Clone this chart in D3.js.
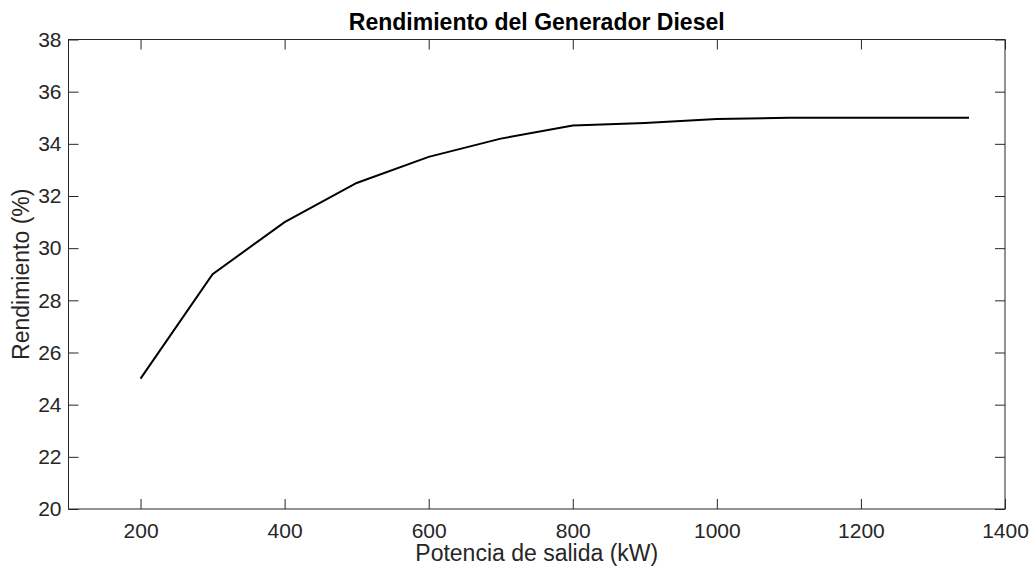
<!DOCTYPE html>
<html lang="es">
<head>
	<meta charset="UTF-8">
	<script src="https://d3js.org/d3.v7.min.js"></script>
	<style>
	body { margin: 0; background: #fff; }
	text { font-family: "Liberation Sans", Arial, sans-serif; }
	</style>
	<title>Rendimiento del Generador Diesel</title>
</head>
<body>
	<div id="chart"></div>
	<script>
		// Potencia de salida (kW) y rendimiento (%)
		const potencia = [200, 300, 400, 500, 600, 700, 800, 900, 1000, 1100, 1200, 1350];
		const rendimiento = [25, 29, 31, 32.5, 33.5, 34.2, 34.7, 34.8, 34.95, 35, 35, 35];
		const xTicks = [200, 400, 600, 800, 1000, 1200, 1400];
		const yTicks = [20, 22, 24, 26, 28, 30, 32, 34, 36, 38];

		const width = 1032, height = 569;
		const margin = { top: 39.5, right: 27, bottom: 60, left: 68.5 };
		const ink = "#262626";

		const svg = d3.select("#chart").append("svg")
			.attr("width", width)
			.attr("height", height);

		const x = d3.scaleLinear()
			.domain([100, 1400])
			.range([margin.left, width - margin.right]);
		const y = d3.scaleLinear()
			.domain([20, 38])
			.range([height - margin.bottom, margin.top]);

		// axes, ticks inward, on all four sides
		const tickLen = 10;
		function styleAxis(g) {
			g.select(".domain").remove();
			g.selectAll(".tick line").attr("stroke", ink);
			g.selectAll(".tick text")
				.attr("fill", ink)
				.style("font-size", "21px");
		}
		svg.append("g")
			.attr("transform", "translate(0," + y.range()[0] + ")")
			.call(d3.axisBottom(x).tickValues(xTicks).tickSizeInner(-tickLen).tickSizeOuter(0)
				.tickPadding(14).tickFormat(d3.format("d")))
			.call(styleAxis);
		svg.append("g")
			.attr("transform", "translate(0," + y.range()[1] + ")")
			.call(d3.axisTop(x).tickValues(xTicks).tickSizeInner(-tickLen).tickSizeOuter(0).tickFormat(""))
			.call(styleAxis);
		svg.append("g")
			.attr("transform", "translate(" + x.range()[0] + ",0)")
			.call(d3.axisLeft(y).tickValues(yTicks).tickSizeInner(-tickLen).tickSizeOuter(0).tickPadding(7))
			.call(styleAxis);
		svg.append("g")
			.attr("transform", "translate(" + x.range()[1] + ",0)")
			.call(d3.axisRight(y).tickValues(yTicks).tickSizeInner(-tickLen).tickSizeOuter(0).tickFormat(""))
			.call(styleAxis);

		// box
		svg.append("rect")
			.attr("x", x.range()[0])
			.attr("y", y.range()[1])
			.attr("width", x.range()[1] - x.range()[0])
			.attr("height", y.range()[0] - y.range()[1])
			.attr("fill", "none")
			.attr("stroke", ink)
			.attr("stroke-width", 1);

		// curve
		const line = d3.line()
			.x((d, i) => x(potencia[i]))
			.y(d => y(d));
		svg.append("path")
			.datum(rendimiento)
			.attr("d", line)
			.attr("fill", "none")
			.attr("stroke", "#000")
			.attr("stroke-width", 2);

		// labels
		svg.append("text")
			.attr("x", (x.range()[0] + x.range()[1]) / 2)
			.attr("y", 30)
			.attr("text-anchor", "middle")
			.attr("fill", "#000")
			.style("font-size", "23px")
			.style("font-weight", "bold")
			.text("Rendimiento del Generador Diesel");
		svg.append("text")
			.attr("x", (x.range()[0] + x.range()[1]) / 2)
			.attr("y", 561)
			.attr("text-anchor", "middle")
			.attr("fill", ink)
			.style("font-size", "23px")
			.text("Potencia de salida (kW)");
		svg.append("text")
			.attr("transform", "translate(29," + (y.range()[0] + y.range()[1]) / 2 + ") rotate(-90)")
			.attr("text-anchor", "middle")
			.attr("fill", ink)
			.style("font-size", "23px")
			.text("Rendimiento (%)");
	</script>
</body>
</html>
